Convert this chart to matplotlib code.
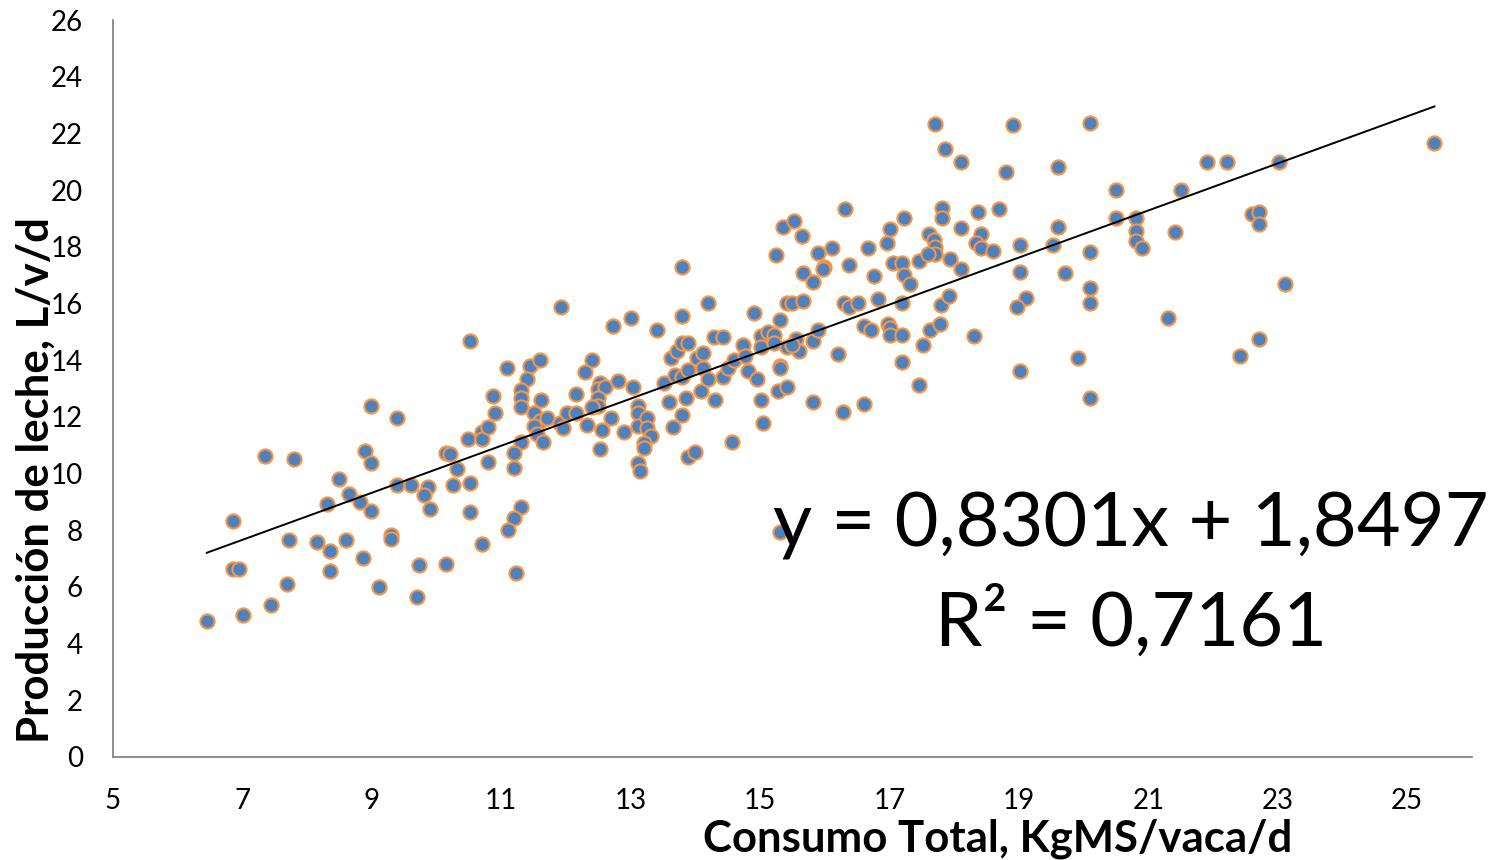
import matplotlib
matplotlib.use("Agg")
import matplotlib.pyplot as plt
import numpy as np

plt.rcParams['font.family'] = ['Lato', 'DejaVu Sans']

# consumo total (KgMS/vaca/d) y produccion de leche (L/v/d)
consumo = [
    6.45, 7.01, 7.44, 7.69, 6.86, 6.95, 6.86, 7.35, 7.80, 7.72,
    8.16, 8.36, 8.36, 8.60, 8.31, 8.50, 8.65, 8.82, 8.99, 8.87,
    9.11, 8.90, 8.99, 8.99, 9.39, 9.30, 9.30, 9.39, 9.61, 9.87,
    9.81, 9.90, 9.73, 9.70, 10.15, 10.15, 10.21, 10.31, 10.26, 10.51,
    10.51, 10.49, 10.71, 10.71, 10.51, 10.80, 10.80, 10.71, 10.88, 10.91,
    11.09, 11.45, 11.60, 11.40, 11.30, 11.30, 11.30, 11.30, 11.20, 11.20,
    11.31, 11.20, 11.11, 11.23, 11.50, 11.62, 11.60, 11.71, 11.50, 11.56,
    11.65, 11.91, 11.96, 12.01, 12.15, 12.15, 11.93, 12.32, 12.41, 12.30,
    12.53, 12.50, 12.61, 12.49, 12.50, 12.41, 12.55, 12.69, 12.53, 12.72,
    12.81, 12.90, 13.00, 13.04, 13.11, 13.11, 13.11, 13.26, 13.26, 13.32,
    13.20, 13.20, 13.11, 13.15, 13.41, 13.51, 13.60, 13.66, 13.80, 13.85,
    13.89, 14.00, 13.80, 13.80, 13.69, 13.80, 13.62, 13.71, 13.80, 13.88,
    13.89, 14.03, 14.11, 14.11, 14.08, 14.20, 14.20, 14.31, 14.28, 14.42,
    14.42, 14.50, 14.59, 14.56, 14.73, 14.76, 14.81, 14.95, 14.90, 15.01,
    15.12, 15.21, 15.02, 15.21, 15.01, 15.05, 15.24, 15.30, 15.30, 15.30,
    15.27, 15.41, 15.41, 15.50, 15.66, 15.41, 15.55, 15.60, 15.50, 15.35,
    15.52, 15.64, 15.66, 15.81, 15.89, 16.11, 15.98, 15.97, 16.38, 15.81,
    15.90, 16.20, 15.81, 16.28, 16.29, 16.37, 16.51, 16.31, 16.66, 16.76,
    16.82, 16.60, 16.71, 16.60, 16.96, 17.00, 16.97, 17.00, 17.00, 17.06,
    17.20, 17.22, 17.31, 17.22, 17.20, 17.20, 17.20, 17.45, 17.45, 17.51,
    17.62, 17.78, 17.79, 17.92, 17.61, 17.68, 17.71, 17.71, 17.59, 17.81,
    17.81, 17.70, 17.85, 18.10, 18.10, 17.93, 18.10, 18.30, 18.36, 18.69,
    18.41, 18.33, 18.41, 18.60, 18.80, 18.91, 19.01, 19.01, 19.11, 18.97,
    19.01, 19.60, 19.60, 19.52, 19.71, 19.91, 20.10, 20.10, 20.10, 20.10,
    20.10, 20.50, 20.50, 20.81, 20.81, 20.81, 20.90, 21.41, 21.50, 21.30,
    21.91, 22.22, 23.02, 22.60, 22.71, 22.71, 23.11, 22.71, 22.42, 25.42, 15.30,
]

leche = [
    4.79, 5.00, 5.36, 6.10, 6.62, 6.62, 8.32, 10.61, 10.50, 7.65,
    7.58, 7.26, 6.55, 7.65, 8.91, 9.80, 9.27, 8.99, 8.67, 7.01,
    5.99, 10.78, 10.36, 12.37, 11.95, 7.82, 7.68, 9.58, 9.58, 9.51,
    9.23, 8.74, 6.77, 5.64, 6.80, 10.71, 10.68, 10.15, 9.58, 9.65,
    8.63, 11.21, 11.45, 11.21, 14.69, 11.63, 10.39, 7.51, 12.72, 12.12,
    13.74, 13.81, 14.02, 13.35, 12.93, 12.65, 12.33, 11.10, 10.71, 10.18,
    8.81, 8.42, 8.00, 6.48, 12.12, 12.61, 11.87, 11.95, 11.66, 11.38,
    11.10, 11.80, 11.59, 12.12, 12.12, 12.79, 15.86, 11.73, 13.99, 13.57,
    13.21, 13.00, 13.04, 12.68, 12.40, 12.33, 11.52, 11.95, 10.85, 15.19,
    13.25, 11.45, 15.50, 13.04, 12.40, 12.12, 11.66, 11.95, 11.59, 11.31,
    11.06, 10.89, 10.36, 10.08, 15.08, 13.21, 12.51, 11.63, 12.05, 12.68,
    10.57, 10.75, 15.57, 17.27, 13.46, 13.39, 14.09, 14.34, 14.59, 14.59,
    13.67, 14.06, 14.27, 13.74, 12.90, 16.00, 13.32, 12.58, 14.80, 14.80,
    13.39, 13.74, 13.99, 11.13, 14.55, 14.16, 13.60, 13.32, 15.68, 14.87,
    14.98, 14.90, 14.45, 14.59, 12.58, 11.80, 17.72, 15.40, 13.81, 13.71,
    12.90, 13.07, 16.00, 16.00, 16.10, 14.45, 14.76, 14.34, 14.52, 18.71,
    18.92, 18.39, 17.09, 16.74, 17.79, 17.94, 17.27, 17.20, 17.34, 14.66,
    15.08, 14.20, 12.54, 12.16, 16.03, 15.86, 16.00, 19.34, 17.97, 16.98,
    16.17, 15.19, 15.05, 12.47, 18.15, 18.64, 15.26, 15.12, 14.90, 17.44,
    17.44, 17.02, 16.67, 19.03, 16.00, 14.90, 13.95, 13.11, 17.51, 14.55,
    15.05, 15.26, 15.93, 16.28, 18.46, 18.25, 18.01, 17.76, 17.76, 19.38,
    19.03, 22.34, 21.46, 21.00, 18.68, 17.58, 17.20, 14.87, 19.24, 19.34,
    18.46, 18.15, 17.94, 17.86, 20.65, 22.30, 18.08, 17.12, 16.21, 15.89,
    13.60, 20.82, 18.71, 18.08, 17.09, 14.06, 22.37, 17.83, 16.53, 16.03,
    12.68, 20.01, 19.03, 19.03, 18.57, 18.22, 17.97, 18.53, 20.01, 15.47,
    21.00, 21.00, 21.00, 19.17, 19.24, 18.82, 16.67, 14.76, 14.13, 21.67, 7.93,
]

# linea de tendencia (de la ecuacion mostrada en el grafico)
pendiente = 0.8301
intercepto = 1.8497
r2 = 0.7161

x_ticks = [5, 7, 9, 11, 13, 15, 17, 19, 21, 23, 25]
y_ticks = [0, 2, 4, 6, 8, 10, 12, 14, 16, 18, 20, 22, 24, 26]

fig = plt.figure(figsize=(14.9, 8.6), dpi=100)
ax = fig.add_axes([0.0758, 0.1198, 0.9121, 0.8569])

ax.scatter(consumo, leche, s=105, color='#4F81BD', edgecolors='#F79646',
           linewidths=1.5, zorder=2)

xs = np.array([min(consumo), max(consumo)])
ax.plot(xs, pendiente * xs + intercepto, color='black', lw=1.4, zorder=3)

ax.set_xlim(5, 26)
ax.set_ylim(0, 26)
ax.set_xticks(x_ticks)
ax.set_yticks(y_ticks)
ax.tick_params(length=0, labelsize=20)
ax.tick_params(axis='x', pad=22)
ax.tick_params(axis='y', pad=21.5)

for side in ['top', 'right']:
    ax.spines[side].set_visible(False)
for side in ['left', 'bottom']:
    ax.spines[side].set_color('#868686')
    ax.spines[side].set_linewidth(1.3)

ax.set_xlabel('Consumo Total, KgMS/vaca/d', fontsize=31.5, fontweight='bold', va='top')
ax.xaxis.set_label_coords(0.651, -0.083)
ax.set_ylabel('Producción de leche, L/v/d', fontsize=31.5, fontweight='bold', va='center')
ax.yaxis.set_label_coords(-0.057, 0.376)

eq = 'y = ' + f'{pendiente:.4f}'.replace('.', ',') + 'x + ' + f'{intercepto:.4f}'.replace('.', ',')
eq += '\nR² = ' + f'{r2:.4f}'.replace('.', ',')
ax.text(0.749, 0.247, eq, transform=ax.transAxes, fontsize=54.5,
        ha='center', va='center', multialignment='center', linespacing=1.42,
        zorder=4, clip_on=False)

fig.savefig('out.png', dpi=100)
